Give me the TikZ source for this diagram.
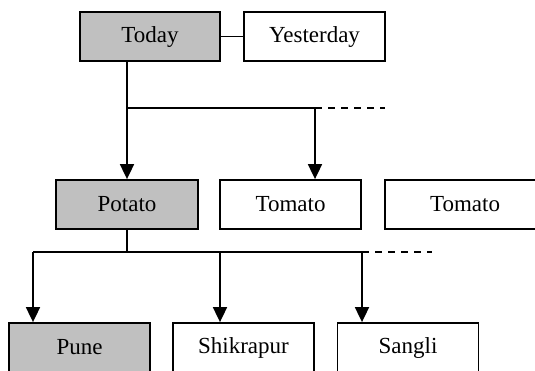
\documentclass[tikz,border=0pt]{standalone}
\usepackage{fontspec}
\setmainfont{Liberation Serif}
\usetikzlibrary{arrows.meta}
\definecolor{boxgray}{HTML}{C0C0C0}
\tikzset{
  box/.style={draw=black, line width=1.8pt, minimum height=49pt, inner sep=0pt,
    font=\fontsize{23}{27}\selectfont},
  wbox/.style={box, fill=white},
  gbox/.style={box, fill=boxgray},
  conn/.style={line width=1.8pt},
  arr/.style={conn, -{Triangle[length=15pt,width=14pt]}},
  dash line/.style={line width=1.6pt, dash pattern=on 7pt off 6pt},
}
\begin{document}
\begin{tikzpicture}[x=1pt,y=-1pt]
\useasboundingbox (0,0) rectangle (535,370);
\clip (0,0) rectangle (535,370);
% top row
\node[gbox, minimum width=140pt] (today) at (150,36.5) {Today};
\node[wbox, minimum width=141pt] (yest) at (314.5,36.5) {Yesterday};
% middle row
\node[gbox, minimum width=142pt] (potato) at (127,204.5) {Potato};
\node[wbox, minimum width=141pt] (tom1) at (290.5,204.5) {Tomato};
\node[wbox, minimum width=160pt] (tom2) at (465,204.5) {Tomato};
% bottom row
\node[gbox, minimum width=141pt] (pune) at (79.5,347.5) {Pune};
\node[wbox, minimum width=141pt] (shik) at (243.5,347.5) {Shikrapur};
\node[wbox, minimum width=141pt] (sang) at (408,347.5) {Sangli};
% junctions
\coordinate (j1) at (127,108);
\coordinate (j1e) at (315,108);
\coordinate (j1d) at (385,108);
\coordinate (j2) at (127,252);
\coordinate (j2a) at (33,252);
\coordinate (j2b) at (220,252);
\coordinate (j2c) at (362,252);
\coordinate (j2d) at (432,252);
% connectors
\draw[conn] (today.east) -- (yest.west);
\draw[arr] (today.south -| potato.north) -- (potato.north);
\draw[conn] (j1) -- (j1e);
\draw[dash line] (j1e) -- (j1d);
\draw[arr] (j1e) -- (j1e |- tom1.north);
\draw[conn] (potato.south) -- (j2);
\draw[conn] (j2a) -- (j2c);
\draw[dash line] (j2c) -- (j2d);
\draw[arr] (j2a) -- (j2a |- pune.north);
\draw[arr] (j2b) -- (j2b |- shik.north);
\draw[arr] (j2c) -- (j2c |- sang.north);
\end{tikzpicture}
\end{document}
